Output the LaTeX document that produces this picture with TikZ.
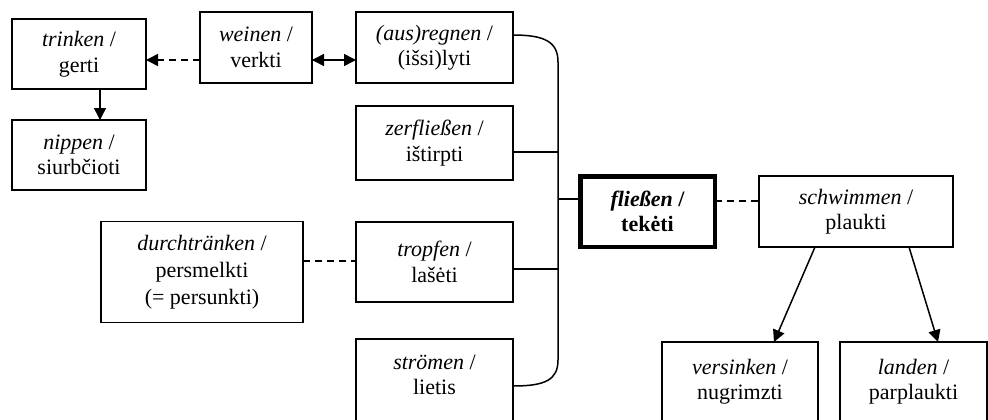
\documentclass[tikz,border=0pt]{standalone}
\usepackage{fontspec}
\setmainfont{Liberation Serif}
\usetikzlibrary{arrows.meta,calc}
\newcommand\boxfont{\fontsize{22}{25.5}\selectfont}
\begin{document}
\begin{tikzpicture}[x=1pt,y=-1pt,
  box/.style={draw, line width=1.5pt, inner sep=0pt, outer sep=0pt, align=center, font=\boxfont},
  conn/.style={line width=1.5pt},
  arr/.style={conn, -{Triangle[length=12pt,width=12pt]}},
  darr/.style={conn, {Triangle[length=12pt,width=12pt]}-{Triangle[length=12pt,width=12pt]}},
  dashline/.style={conn, dash pattern=on 7pt off 5pt}]
\useasboundingbox (0,0) rectangle (988,420);
% nodes
\node[box, minimum width=134, minimum height=70] (trinken) at (79,54) {\textit{trinken} /\\gerti};
\node[box, minimum width=134, minimum height=70] (nippen) at (79,155) {\textit{nippen} /\\siurbčioti};
\node[box, minimum width=112, minimum height=71] (weinen) at (256,47.5) {\textit{weinen} /\\verkti};
\node[box, minimum width=157, minimum height=71] (regnen) at (434.5,47.5) {\textit{(aus)regnen} /\\(išsi)lyti};
\node[box, minimum width=157, minimum height=74] (zerf) at (434.5,143) {\textit{zerfließen} /\\ištirpti};
\node[box, minimum width=202, minimum height=101, font=\fontsize{22}{27}\selectfont] (durch) at (202,272) {\textit{durchtränken} /\\persmelkti\\(= persunkti)};
\node[box, minimum width=157, minimum height=80] (tropfen) at (434.5,262) {\textit{tropfen} /\\lašėti};
\node[box, anchor=north west] (stroemen) at (356,339) {\parbox[b][100pt][t]{157pt}{\centering\rule{0pt}{30pt}\textit{strömen} /\\lietis}};
\node[box, line width=4.5pt, minimum width=134.5, minimum height=70.5, font=\boxfont\bfseries] (fl) at (647.5,211.5) {\textit{fließen} /\\tekėti};
\node[box, minimum width=194, minimum height=71] (schwimmen) at (856,211.5) {\textit{schwimmen} /\\plaukti};
\node[box, anchor=north west] (versinken) at (662,342) {\parbox[b][100pt][t]{156pt}{\centering\rule{0pt}{32pt}\textit{versinken} /\\nugrimzti}};
\node[box, anchor=north west] (landen) at (840,342) {\parbox[b][100pt][t]{147pt}{\centering\rule{0pt}{32pt}\textit{landen} /\\parplaukti}};
% connectors
\draw[arr] ($(trinken.south)+(21,0)$) -- ($(nippen.north)+(21,0)$);
\draw[arr, dashline] ($(weinen.west)+(0,12.5)$) -- ($(trinken.east)+(0,6)$);
\draw[darr] ($(weinen.east)+(0,12.5)$) -- ($(regnen.west)+(0,12.5)$);
\draw[dashline] ($(durch.east)+(0,-11)$) -- ($(tropfen.west)+(0,-1)$);
\draw[dashline] ($(fl.east)+(0,-10.5)$) -- ($(schwimmen.west)+(0,-10.5)$);
\draw[arr] ($(schwimmen.south)+(-41,0)$) -- ($(versinken.north)+(34,0)$);
\draw[arr] ($(schwimmen.south)+(53,0)$) -- ($(landen.north)+(24.5,0)$);
% bracket
\coordinate (bx) at (558,0);
\draw[conn] ($(regnen.east)+(0,-12.5)$) .. controls +(32,0) and +(0,-20) .. (558,62) -- (558,360) .. controls +(0,20) and +(32,0) .. ($(stroemen.east)+(0,-3)$);
\draw[conn] ($(zerf.east)+(0,9)$) coordinate (z1) -- (z1 -| bx);
\draw[conn] ($(tropfen.east)+(0,7)$) coordinate (t1) -- (t1 -| bx);
\draw[conn] ($(fl.west)+(0,-12.5)$) coordinate (f1) -- (f1 -| bx);
\end{tikzpicture}
\end{document}
